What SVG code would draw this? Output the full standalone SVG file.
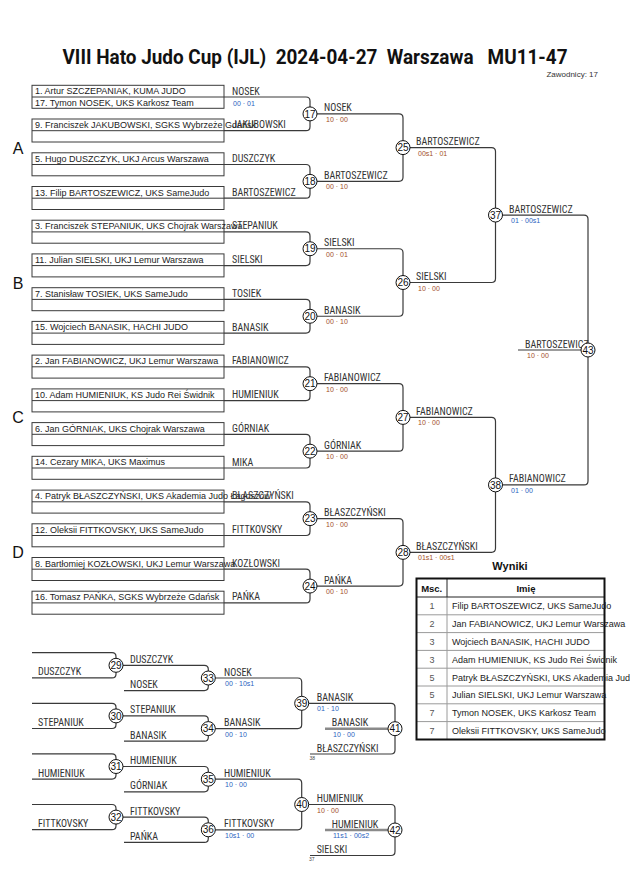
<svg xmlns="http://www.w3.org/2000/svg" width="630" height="891" viewBox="0 0 630 891">
<style>
.ln{fill:none;stroke:#3a3a3a;stroke-width:1.2}
.box{fill:none;stroke:#3a3a3a;stroke-width:1}
.nm{font-family:"Liberation Sans",Arial,sans-serif;font-size:9px;fill:#222}
.lb{font-family:"Liberation Sans Narrow","Roboto Condensed","Liberation Sans",sans-serif;font-size:10px;fill:#333}
.sc{font-family:"Liberation Sans",Arial,sans-serif;font-size:7px}
.sb{fill:#2a62c0}
.sr{fill:#a4501e}
.tiny{font-family:"Liberation Sans",sans-serif;font-size:5px;fill:#444}
.cn circle{fill:#fff;stroke:#111;stroke-width:1}
.cn text{font-family:"Liberation Sans",Arial,sans-serif;font-size:10px;text-anchor:middle;fill:#111}
.pool{font-family:"Liberation Sans",Arial,sans-serif;font-size:16px;fill:#111;text-anchor:middle}
.gl{stroke:#8a8a8a;stroke-width:2.5}
.th{font-family:"Liberation Sans",Arial,sans-serif;font-size:9.5px;font-weight:bold;fill:#111;text-anchor:middle}
.tn{font-family:"Liberation Sans",Arial,sans-serif;font-size:9px;fill:#555;text-anchor:middle}
.tg{stroke:#9a9a9a;stroke-width:1}
</style>

<text x="315" y="64" text-anchor="middle" font-family="Roboto, 'Liberation Sans', sans-serif" font-weight="bold" font-size="20" fill="#111" textLength="505" lengthAdjust="spacingAndGlyphs" xml:space="preserve">VIII Hato Judo Cup (IJL)  2024-04-27  Warszawa   MU11-47</text>
<text x="598" y="77" text-anchor="end" font-family="Liberation Sans, sans-serif" font-size="8" fill="#333">Zawodnicy: 17</text>

<g id="pools">
<text class="pool" x="18" y="153.6">A</text>
<text class="pool" x="18" y="288.5">B</text>
<text class="pool" x="18" y="423.4">C</text>
<text class="pool" x="18" y="558.4">D</text>
</g>

<g id="connectors">
<path class="ln" d="M224 97 H306 Q310 97 310 101 V126.7 Q310 130.7 306 130.7 H224"/>
<path class="ln" d="M224 164.5 H306 Q310 164.5 310 168.5 V194.2 Q310 198.2 306 198.2 H224"/>
<path class="ln" d="M224 231.9 H306 Q310 231.9 310 235.9 V261.6 Q310 265.6 306 265.6 H224"/>
<path class="ln" d="M224 299.4 H306 Q310 299.4 310 303.4 V329.1 Q310 333.1 306 333.1 H224"/>
<path class="ln" d="M224 366.8 H306 Q310 366.8 310 370.8 V396.6 Q310 400.6 306 400.6 H224"/>
<path class="ln" d="M224 434.3 H306 Q310 434.3 310 438.3 V464 Q310 468 306 468 H224"/>
<path class="ln" d="M224 501.8 H306 Q310 501.8 310 505.8 V531.5 Q310 535.5 306 535.5 H224"/>
<path class="ln" d="M224 569.2 H306 Q310 569.2 310 573.2 V598.9 Q310 602.9 306 602.9 H224"/>
<path class="ln" d="M310 113.9 H399 Q403 113.9 403 117.9 V177.35 Q403 181.35 399 181.35 H310"/>
<path class="ln" d="M310 248.75 H399 Q403 248.75 403 252.75 V312.25 Q403 316.25 399 316.25 H310"/>
<path class="ln" d="M310 383.7 H399 Q403 383.7 403 387.7 V447.15 Q403 451.15 399 451.15 H310"/>
<path class="ln" d="M310 518.65 H399 Q403 518.65 403 522.65 V582.05 Q403 586.05 399 586.05 H310"/>
<path class="ln" d="M403 147.6 H491.5 Q495.5 147.6 495.5 151.6 V278.5 Q495.5 282.5 491.5 282.5 H403"/>
<path class="ln" d="M403 417.4 H491.5 Q495.5 417.4 495.5 421.4 V548.35 Q495.5 552.35 491.5 552.35 H403"/>
<path class="ln" d="M495.5 215.05 H584 Q588 215.05 588 219.05 V480.9 Q588 484.9 584 484.9 H495.5"/>
<path class="ln" d="M518 350 H582"/>
<path class="ln" d="M32 652.7 H112 Q116 652.7 116 656.7 V673.9 Q116 677.9 112 677.9 H32"/>
<path class="ln" d="M32 703.3 H112 Q116 703.3 116 707.3 V724.5 Q116 728.5 112 728.5 H32"/>
<path class="ln" d="M32 753.9 H112 Q116 753.9 116 757.9 V775.1 Q116 779.1 112 779.1 H32"/>
<path class="ln" d="M32 804.5 H112 Q116 804.5 116 808.5 V825.7 Q116 829.7 112 829.7 H32"/>
<path class="ln" d="M116 665.3 H204.3 Q208.3 665.3 208.3 669.3 V686.6 Q208.3 690.6 204.3 690.6 H124"/>
<path class="ln" d="M116 715.9 H204.3 Q208.3 715.9 208.3 719.9 V737.2 Q208.3 741.2 204.3 741.2 H124"/>
<path class="ln" d="M116 766.5 H204.3 Q208.3 766.5 208.3 770.5 V787.8 Q208.3 791.8 204.3 791.8 H124"/>
<path class="ln" d="M116 817.1 H204.3 Q208.3 817.1 208.3 821.1 V838.4 Q208.3 842.4 204.3 842.4 H124"/>
<path class="ln" d="M208.3 678 H297.7 Q301.7 678 301.7 682 V724.6 Q301.7 728.6 297.7 728.6 H208.3"/>
<path class="ln" d="M208.3 779.2 H297.7 Q301.7 779.2 301.7 783.2 V825.8 Q301.7 829.8 297.7 829.8 H208.3"/>
<path class="ln" d="M301.7 703.3 H391 Q395 703.3 395 707.3 V750 Q395 754 391 754 H310"/>
<path class="ln" d="M301.7 804.5 H391 Q395 804.5 395 808.5 V851.5 Q395 855.5 391 855.5 H310"/>
<line class="gl" x1="325" y1="728.7" x2="388" y2="728.7"/>
<line class="gl" x1="325" y1="830" x2="388" y2="830"/>
</g>

<g id="entries">
<g id="slot1"><rect class="box" x="32" y="85.3" width="192" height="23"/><line class="box" x1="32" y1="97" x2="224" y2="97"/>
<text class="nm" x="35" y="94.3">1. Artur SZCZEPANIAK, KUMA JUDO</text><text class="nm" x="35" y="106">17. Tymon NOSEK, UKS Karkosz Team</text></g>
<g id="slot9"><rect class="box" x="32" y="119" width="192" height="23"/><line class="box" x1="32" y1="130.7" x2="224" y2="130.7"/>
<text class="nm" x="35" y="128">9. Franciszek JAKUBOWSKI, SGKS Wybrzeże Gdańsk</text></g>
<g id="slot5"><rect class="box" x="32" y="152.8" width="192" height="23"/><line class="box" x1="32" y1="164.5" x2="224" y2="164.5"/>
<text class="nm" x="35" y="161.8">5. Hugo DUSZCZYK, UKJ Arcus Warszawa</text></g>
<g id="slot13"><rect class="box" x="32" y="186.5" width="192" height="23"/><line class="box" x1="32" y1="198.2" x2="224" y2="198.2"/>
<text class="nm" x="35" y="195.5">13. Filip BARTOSZEWICZ, UKS SameJudo</text></g>
<g id="slot3"><rect class="box" x="32" y="220.2" width="192" height="23"/><line class="box" x1="32" y1="231.9" x2="224" y2="231.9"/>
<text class="nm" x="35" y="229.2">3. Franciszek STEPANIUK, UKS Chojrak Warszawa</text></g>
<g id="slot11"><rect class="box" x="32" y="253.9" width="192" height="23"/><line class="box" x1="32" y1="265.6" x2="224" y2="265.6"/>
<text class="nm" x="35" y="262.9">11. Julian SIELSKI, UKJ Lemur Warszawa</text></g>
<g id="slot7"><rect class="box" x="32" y="287.7" width="192" height="23"/><line class="box" x1="32" y1="299.4" x2="224" y2="299.4"/>
<text class="nm" x="35" y="296.7">7. Stanisław TOSIEK, UKS SameJudo</text></g>
<g id="slot15"><rect class="box" x="32" y="321.4" width="192" height="23"/><line class="box" x1="32" y1="333.1" x2="224" y2="333.1"/>
<text class="nm" x="35" y="330.4">15. Wojciech BANASIK, HACHI JUDO</text></g>
<g id="slot2"><rect class="box" x="32" y="355.1" width="192" height="23"/><line class="box" x1="32" y1="366.8" x2="224" y2="366.8"/>
<text class="nm" x="35" y="364.1">2. Jan FABIANOWICZ, UKJ Lemur Warszawa</text></g>
<g id="slot10"><rect class="box" x="32" y="388.9" width="192" height="23"/><line class="box" x1="32" y1="400.6" x2="224" y2="400.6"/>
<text class="nm" x="35" y="397.9">10. Adam HUMIENIUK, KS Judo Rei Świdnik</text></g>
<g id="slot6"><rect class="box" x="32" y="422.6" width="192" height="23"/><line class="box" x1="32" y1="434.3" x2="224" y2="434.3"/>
<text class="nm" x="35" y="431.6">6. Jan GÓRNIAK, UKS Chojrak Warszawa</text></g>
<g id="slot14"><rect class="box" x="32" y="456.3" width="192" height="23"/><line class="box" x1="32" y1="468" x2="224" y2="468"/>
<text class="nm" x="35" y="465.3">14. Cezary MIKA, UKS Maximus</text></g>
<g id="slot4"><rect class="box" x="32" y="490.1" width="192" height="23"/><line class="box" x1="32" y1="501.8" x2="224" y2="501.8"/>
<text class="nm" x="35" y="499.1">4. Patryk BŁASZCZYŃSKI, UKS Akademia Judo Łagoszów</text></g>
<g id="slot12"><rect class="box" x="32" y="523.8" width="192" height="23"/><line class="box" x1="32" y1="535.5" x2="224" y2="535.5"/>
<text class="nm" x="35" y="532.8">12. Oleksii FITTKOVSKY, UKS SameJudo</text></g>
<g id="slot8"><rect class="box" x="32" y="557.5" width="192" height="23"/><line class="box" x1="32" y1="569.2" x2="224" y2="569.2"/>
<text class="nm" x="35" y="566.5">8. Bartłomiej KOZŁOWSKI, UKJ Lemur Warszawa</text></g>
<g id="slot16"><rect class="box" x="32" y="591.2" width="192" height="23"/><line class="box" x1="32" y1="602.9" x2="224" y2="602.9"/>
<text class="nm" x="35" y="600.2">16. Tomasz PAŃKA, SGKS Wybrzeże Gdańsk</text></g>
</g>

<g id="labels">
<text class="lb" x="232" y="94.5">NOSEK</text>
<text class="sc sb" x="233" y="105.5">00 · 01</text>
<text class="lb" x="232" y="128.2">JAKUBOWSKI</text>
<text class="lb" x="232" y="162">DUSZCZYK</text>
<text class="lb" x="232" y="195.7">BARTOSZEWICZ</text>
<text class="lb" x="232" y="229.4">STEPANIUK</text>
<text class="lb" x="232" y="263.1">SIELSKI</text>
<text class="lb" x="232" y="296.9">TOSIEK</text>
<text class="lb" x="232" y="330.6">BANASIK</text>
<text class="lb" x="232" y="364.3">FABIANOWICZ</text>
<text class="lb" x="232" y="398.1">HUMIENIUK</text>
<text class="lb" x="232" y="431.8">GÓRNIAK</text>
<text class="lb" x="232" y="465.5">MIKA</text>
<text class="lb" x="232" y="499.3">BŁASZCZYŃSKI</text>
<text class="lb" x="232" y="533">FITTKOVSKY</text>
<text class="lb" x="232" y="566.7">KOZŁOWSKI</text>
<text class="lb" x="232" y="600.4">PAŃKA</text>

<text class="lb" x="324" y="111.4">NOSEK</text><text class="sc sr" x="326" y="121.9">10 · 00</text>
<text class="lb" x="324" y="178.85">BARTOSZEWICZ</text><text class="sc sr" x="326" y="189.35">00 · 10</text>
<text class="lb" x="324" y="246.25">SIELSKI</text><text class="sc sr" x="326" y="256.75">00 · 01</text>
<text class="lb" x="324" y="313.75">BANASIK</text><text class="sc sr" x="326" y="324.25">00 · 10</text>
<text class="lb" x="324" y="381.2">FABIANOWICZ</text><text class="sc sr" x="326" y="391.7">10 · 00</text>
<text class="lb" x="324" y="448.65">GÓRNIAK</text><text class="sc sr" x="326" y="459.15">10 · 00</text>
<text class="lb" x="324" y="516.15">BŁASZCZYŃSKI</text><text class="sc sr" x="326" y="526.65">10 · 00</text>
<text class="lb" x="324" y="583.55">PAŃKA</text><text class="sc sr" x="326" y="594.05">00 · 10</text>

<text class="lb" x="416" y="145.1">BARTOSZEWICZ</text><text class="sc sr" x="418" y="155.6">00s1 · 01</text>
<text class="lb" x="416" y="280">SIELSKI</text><text class="sc sr" x="418" y="290.5">10 · 00</text>
<text class="lb" x="416" y="414.9">FABIANOWICZ</text><text class="sc sr" x="418" y="425.4">10 · 00</text>
<text class="lb" x="416" y="549.85">BŁASZCZYŃSKI</text><text class="sc sr" x="418" y="560.35">01s1 · 00s1</text>

<text class="lb" x="509" y="212.55">BARTOSZEWICZ</text><text class="sc sb" x="511" y="223.05">01 · 00s1</text>
<text class="lb" x="509" y="482.4">FABIANOWICZ</text><text class="sc sb" x="511" y="492.9">01 · 00</text>
<text class="lb" x="525" y="347.5">BARTOSZEWICZ</text><text class="sc sr" x="527" y="358">10 · 00</text>

<text class="lb" x="38" y="675.4">DUSZCZYK</text>
<text class="lb" x="38" y="726">STEPANIUK</text>
<text class="lb" x="38" y="776.6">HUMIENIUK</text>
<text class="lb" x="38" y="827.2">FITTKOVSKY</text>
<text class="lb" x="130" y="662.8">DUSZCZYK</text>
<text class="lb" x="130" y="688.1">NOSEK</text>
<text class="lb" x="130" y="713.4">STEPANIUK</text>
<text class="lb" x="130" y="738.7">BANASIK</text>
<text class="lb" x="130" y="764">HUMIENIUK</text>
<text class="lb" x="130" y="789.3">GÓRNIAK</text>
<text class="lb" x="130" y="814.6">FITTKOVSKY</text>
<text class="lb" x="130" y="839.9">PAŃKA</text>
<text class="lb" x="224" y="675.5">NOSEK</text><text class="sc sb" x="225" y="686">00 · 10s1</text>
<text class="lb" x="224" y="726.1">BANASIK</text><text class="sc sb" x="225" y="736.6">00 · 10</text>
<text class="lb" x="224" y="776.7">HUMIENIUK</text><text class="sc sb" x="225" y="787.2">10 · 00</text>
<text class="lb" x="224" y="827.3">FITTKOVSKY</text><text class="sc sb" x="225" y="837.8">10s1 · 00</text>
<text class="lb" x="316.7" y="700.8">BANASIK</text><text class="sc sb" x="317" y="711.3">01 · 10</text>
<text class="lb" x="331.7" y="726.2">BANASIK</text><text class="sc sb" x="333" y="736.7">10 · 00</text>
<text class="lb" x="316.7" y="751.5">BŁASZCZYŃSKI</text><text class="tiny" x="309.5" y="759.5">38</text>
<text class="lb" x="316.7" y="802">HUMIENIUK</text><text class="sc sr" x="317" y="812.5">10 · 00</text>
<text class="lb" x="331.7" y="827.5">HUMIENIUK</text><text class="sc sb" x="333" y="838">11s1 · 00s2</text>
<text class="lb" x="316.7" y="853">SIELSKI</text><text class="tiny" x="309" y="860.5">37</text>
</g>

<g id="fights">
<g class="cn" id="f17"><circle cx="310" cy="113.9" r="7"/><text x="310" y="117.5">17</text></g>
<g class="cn" id="f18"><circle cx="310" cy="181.35" r="7"/><text x="310" y="184.95">18</text></g>
<g class="cn" id="f19"><circle cx="310" cy="248.75" r="7"/><text x="310" y="252.35">19</text></g>
<g class="cn" id="f20"><circle cx="310" cy="316.25" r="7"/><text x="310" y="319.85">20</text></g>
<g class="cn" id="f21"><circle cx="310" cy="383.7" r="7"/><text x="310" y="387.3">21</text></g>
<g class="cn" id="f22"><circle cx="310" cy="451.15" r="7"/><text x="310" y="454.75">22</text></g>
<g class="cn" id="f23"><circle cx="310" cy="518.65" r="7"/><text x="310" y="522.25">23</text></g>
<g class="cn" id="f24"><circle cx="310" cy="586.05" r="7"/><text x="310" y="589.65">24</text></g>
<g class="cn" id="f25"><circle cx="403" cy="147.6" r="7"/><text x="403" y="151.2">25</text></g>
<g class="cn" id="f26"><circle cx="403" cy="282.5" r="7"/><text x="403" y="286.1">26</text></g>
<g class="cn" id="f27"><circle cx="403" cy="417.4" r="7"/><text x="403" y="421">27</text></g>
<g class="cn" id="f28"><circle cx="403" cy="552.35" r="7"/><text x="403" y="555.95">28</text></g>
<g class="cn" id="f37"><circle cx="495.5" cy="215.05" r="7"/><text x="495.5" y="218.65">37</text></g>
<g class="cn" id="f38"><circle cx="495.5" cy="484.9" r="7"/><text x="495.5" y="488.5">38</text></g>
<g class="cn" id="f43"><circle cx="588" cy="350" r="7"/><text x="588" y="353.6">43</text></g>
<g class="cn" id="f29"><circle cx="116" cy="665.3" r="7"/><text x="116" y="668.9">29</text></g>
<g class="cn" id="f30"><circle cx="116" cy="715.9" r="7"/><text x="116" y="719.5">30</text></g>
<g class="cn" id="f31"><circle cx="116" cy="766.5" r="7"/><text x="116" y="770.1">31</text></g>
<g class="cn" id="f32"><circle cx="116" cy="817.1" r="7"/><text x="116" y="820.7">32</text></g>
<g class="cn" id="f33"><circle cx="208.3" cy="678" r="7"/><text x="208.3" y="681.6">33</text></g>
<g class="cn" id="f34"><circle cx="208.3" cy="728.6" r="7"/><text x="208.3" y="732.2">34</text></g>
<g class="cn" id="f35"><circle cx="208.3" cy="779.2" r="7"/><text x="208.3" y="782.8">35</text></g>
<g class="cn" id="f36"><circle cx="208.3" cy="829.8" r="7"/><text x="208.3" y="833.4">36</text></g>
<g class="cn" id="f39"><circle cx="301.7" cy="703.3" r="7"/><text x="301.7" y="706.9">39</text></g>
<g class="cn" id="f40"><circle cx="301.7" cy="804.5" r="7"/><text x="301.7" y="808.1">40</text></g>
<g class="cn" id="f41"><circle cx="395" cy="728.7" r="7"/><text x="395" y="732.3">41</text></g>
<g class="cn" id="f42"><circle cx="395" cy="830" r="7"/><text x="395" y="833.6">42</text></g>
</g>

<g id="results">
<text x="510" y="570" text-anchor="middle" font-family="Liberation Sans, sans-serif" font-weight="bold" font-size="11" fill="#111">Wyniki</text>
<line class="tg" x1="416.5" y1="614.8" x2="604.5" y2="614.8"/>
<line class="tg" x1="416.5" y1="632.6" x2="604.5" y2="632.6"/>
<line class="tg" x1="416.5" y1="650.4" x2="604.5" y2="650.4"/>
<line class="tg" x1="416.5" y1="668.2" x2="604.5" y2="668.2"/>
<line class="tg" x1="416.5" y1="686" x2="604.5" y2="686"/>
<line class="tg" x1="416.5" y1="703.8" x2="604.5" y2="703.8"/>
<line class="tg" x1="416.5" y1="721.6" x2="604.5" y2="721.6"/>
<line class="tg" x1="447" y1="597" x2="447" y2="739.4"/>
<line x1="416.5" y1="597" x2="604.5" y2="597" stroke="#222" stroke-width="1"/>
<line x1="447" y1="578.5" x2="447" y2="597" stroke="#222" stroke-width="1"/>
<rect x="416.5" y="578.5" width="188" height="161" fill="none" stroke="#111" stroke-width="2"/>
<text class="th" x="431.7" y="591.5">Msc.</text>
<text class="th" x="526" y="591.5">Imię</text>
<text class="tn" x="432" y="609.3">1</text><text class="nm" x="452" y="609.3">Filip BARTOSZEWICZ, UKS SameJudo</text>
<text class="tn" x="432" y="627.1">2</text><text class="nm" x="452" y="627.1">Jan FABIANOWICZ, UKJ Lemur Warszawa</text>
<text class="tn" x="432" y="644.9">3</text><text class="nm" x="452" y="644.9">Wojciech BANASIK, HACHI JUDO</text>
<text class="tn" x="432" y="662.7">3</text><text class="nm" x="452" y="662.7">Adam HUMIENIUK, KS Judo Rei Świdnik</text>
<text class="tn" x="432" y="680.5">5</text><text class="nm" x="452" y="680.5">Patryk BŁASZCZYŃSKI, UKS Akademia Judo Łagoszów</text>
<text class="tn" x="432" y="698.3">5</text><text class="nm" x="452" y="698.3">Julian SIELSKI, UKJ Lemur Warszawa</text>
<text class="tn" x="432" y="716.1">7</text><text class="nm" x="452" y="716.1">Tymon NOSEK, UKS Karkosz Team</text>
<text class="tn" x="432" y="733.9">7</text><text class="nm" x="452" y="733.9">Oleksii FITTKOVSKY, UKS SameJudo</text>
</g>
</svg>
